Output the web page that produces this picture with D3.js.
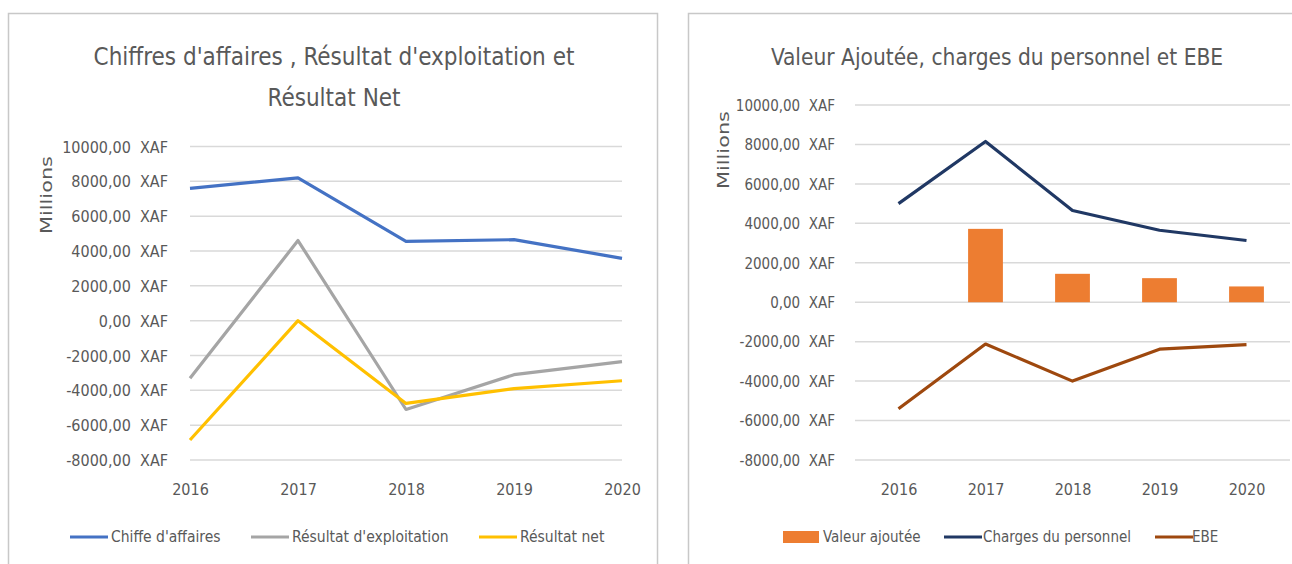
<!DOCTYPE html>
<html>
<head>
<meta charset="utf-8">
<script src="https://cdn.jsdelivr.net/npm/d3@7"></script>
<style>
  body { margin: 0; background: #fff; }
  svg { display: block; }
  text { font-family: "Liberation Sans Narrow", "DejaVu Sans Condensed", "Roboto", sans-serif; fill: #595959; }
</style>
</head>
<body>
<script>
// ---- data (millions XAF) ----
const years = ["2016", "2017", "2018", "2019", "2020"];

const chiffreAffaires = [7600, 8200, 4550, 4650, 3580];
const resultatExploitation = [-3300, 4600, -5100, -3100, -2350];
const resultatNet = [-6850, 0, -4750, -3900, -3450];

const valeurAjoutee = [0, 3720, 1440, 1220, 800];
const chargesPersonnel = [5000, 8150, 4650, 3650, 3130];
const ebe = [-5400, -2120, -4000, -2380, -2150];

const yTicks = [-8000, -6000, -4000, -2000, 0, 2000, 4000, 6000, 8000, 10000];

const leftTitle = ["Chiffres d'affaires , Résultat d'exploitation et", "Résultat Net"];
const rightTitle = ["Valeur Ajoutée, charges du personnel et EBE"];

const fmtXAF = d => d.toFixed(2).replace(".", ",") + "\u00a0\u00a0XAF";

const svg = d3.select("body").append("svg")
    .attr("width", 1292)
    .attr("height", 564);

// chart frames
svg.append("rect").attr("x", 8.5).attr("y", 13.5).attr("width", 649).attr("height", 560)
    .attr("fill", "#fff").attr("stroke", "#c8c8c8").attr("stroke-width", 1.5);
svg.append("rect").attr("x", 688.5).attr("y", 13.5).attr("width", 620).attr("height", 560)
    .attr("fill", "#fff").attr("stroke", "#c8c8c8").attr("stroke-width", 1.5);

function drawAxes(g, xScale, yScale, x0, x1, opts) {
  // grid lines
  g.append("g")
      .selectAll("line")
      .data(yTicks)
      .join("line")
      .attr("x1", x0).attr("x2", x1)
      .attr("y1", d => yScale(d)).attr("y2", d => yScale(d))
      .attr("stroke", "#d9d9d9")
      .attr("stroke-width", 1.5);

  const yAxis = g.append("g")
      .attr("transform", "translate(" + opts.tickRight + ",0)")
      .call(d3.axisLeft(yScale).tickValues(yTicks).tickFormat(fmtXAF).tickSize(0).tickPadding(0));
  yAxis.select(".domain").remove();
  yAxis.selectAll("text").style("font-size", opts.tickSize + "px").attr("fill", "#595959")
      .attr("font-family", null).attr("dy", "0.35em");

  const xAxis = g.append("g")
      .attr("transform", "translate(0," + opts.xLabelY + ")")
      .call(d3.axisBottom(xScale).tickSize(0).tickPadding(0));
  xAxis.select(".domain").remove();
  xAxis.selectAll("text").style("font-size", "16px").attr("fill", "#595959")
      .attr("font-family", null).attr("dy", "0.35em");

  g.append("text")
      .attr("transform", "translate(" + opts.millionsX + "," + opts.millionsY + ") rotate(-90)")
      .attr("text-anchor", "middle")
      .attr("dy", "0.35em")
      .attr("textLength", 78)
      .attr("lengthAdjust", "spacingAndGlyphs")
      .style("font-family", "'DejaVu Sans', sans-serif")
      .style("font-size", "15px")
      .text("Millions");
}

function drawTitle(g, lines, cx, y0, lh, size) {
  g.selectAll(null)
      .data(lines)
      .join("text")
      .attr("x", cx)
      .attr("y", (d, i) => y0 + i * lh)
      .attr("text-anchor", "middle")
      .style("font-size", size + "px")
      .text(d => d);
}

function drawLine(g, xPos, yScale, values, color) {
  const line = d3.line()
      .x((d, i) => xPos(years[i]))
      .y(d => yScale(d));
  g.append("path")
      .datum(values)
      .attr("d", line)
      .attr("fill", "none")
      .attr("stroke", color)
      .attr("stroke-width", 3.2)
      .attr("stroke-linejoin", "round");
}

function drawLegend(g, items, y, size) {
  items.forEach(it => {
    if (it.type === "bar") {
      g.append("rect").attr("x", it.x).attr("y", y - 6).attr("width", 36).attr("height", 12)
          .attr("fill", it.color);
    } else {
      g.append("line").attr("x1", it.x).attr("x2", it.x + 38).attr("y1", y).attr("y2", y)
          .attr("stroke", it.color).attr("stroke-width", 3.2);
    }
    g.append("text").attr("x", it.tx).attr("y", y).attr("dy", "0.35em")
        .style("font-size", size + "px").text(it.label);
  });
}

// ---- left chart ----
{
  const g = svg.append("g");
  const x = d3.scalePoint().domain(years).range([190, 622]);
  const y = d3.scaleLinear().domain([-8000, 10000]).range([460, 146.5]);

  drawTitle(g, leftTitle, 334, 65, 41, 24);
  drawAxes(g, x, y, 190, 622, { tickRight: 168, tickSize: 16, xLabelY: 489, millionsX: 47, millionsY: 195 });

  drawLine(g, x, y, resultatExploitation, "#a5a5a5");
  drawLine(g, x, y, resultatNet, "#ffc000");
  drawLine(g, x, y, chiffreAffaires, "#4472c4");

  drawLegend(g, [
    { x: 70, tx: 111, color: "#4472c4", label: "Chiffe d'affaires" },
    { x: 251, tx: 292, color: "#a5a5a5", label: "Résultat d'exploitation" },
    { x: 479, tx: 520, color: "#ffc000", label: "Résultat net" }
  ], 537, 15.5);
}

// ---- right chart ----
{
  const g = svg.append("g");
  const x = d3.scaleBand().domain(years).range([855, 1290]).paddingInner(0.6).paddingOuter(0.3);
  const xc = d => x(d) + x.bandwidth() / 2;
  const xAxisScale = d3.scalePoint().domain(years).range([xc(years[0]), xc(years[4])]);
  const y = d3.scaleLinear().domain([-8000, 10000]).range([460, 105]);

  drawTitle(g, rightTitle, 997, 65, 41, 22.5);
  drawAxes(g, xAxisScale, y, 855, 1290, { tickRight: 835, tickSize: 15, xLabelY: 489, millionsX: 724, millionsY: 150 });

  g.append("g")
      .selectAll("rect")
      .data(valeurAjoutee)
      .join("rect")
      .attr("x", (d, i) => x(years[i]))
      .attr("width", x.bandwidth())
      .attr("y", d => y(Math.max(0, d)))
      .attr("height", d => Math.abs(y(d) - y(0)))
      .attr("fill", "#ed7d31");

  drawLine(g, xc, y, chargesPersonnel, "#203864");
  drawLine(g, xc, y, ebe, "#9e480e");

  drawLegend(g, [
    { x: 783, tx: 823, color: "#ed7d31", label: "Valeur ajoutée", type: "bar" },
    { x: 944, tx: 983, color: "#203864", label: "Charges du personnel" },
    { x: 1155, tx: 1192, color: "#9e480e", label: "EBE" }
  ], 537, 15);
}
</script>
</body>
</html>
